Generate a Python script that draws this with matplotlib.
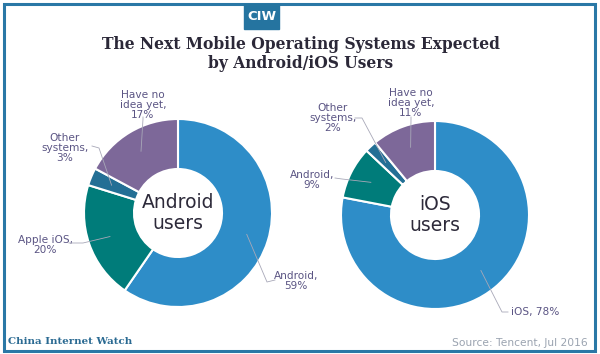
import numpy as np
import matplotlib.pyplot as plt
from matplotlib.patches import Rectangle

# data
android_labels = ['Android', 'Apple iOS', 'Other\nsystems', 'Have no\nidea yet']
android_vals = [59, 20, 3, 17]
ios_labels = ['iOS', 'Android', 'Other\nsystems', 'Have no\nidea yet']
ios_vals = [78, 9, 2, 11]
colors = ['#2e8dc8', '#007c7a', '#236f95', '#7d6899']

W, H = 600, 354
fig = plt.figure(figsize=(6, 3.54), dpi=100)
ax = fig.add_axes([0, 0, 1, 1])

def py(y):
    # pixel y (top-down) to data y
    return H - y

label_col = '#5b5584'
R, r_in = 94, 44

def donut(cx, cy, vals, labels, centre_txt, lab_pos, elbows, one_line=()):
    wedges, _ = ax.pie(vals, colors=colors, startangle=90, counterclock=False,
                       center=(cx, py(cy)), radius=R,
                       wedgeprops=dict(width=R - r_in, edgecolor='white', linewidth=1.5))
    ax.text(cx, py(cy), centre_txt, ha='center', va='center', fontsize=13.5,
            color='#2d2a3a', linespacing=1.15, family='DejaVu Sans')
    for i, (w, lab, v, pos, el) in enumerate(zip(wedges, labels, vals, lab_pos, elbows)):
        ang = np.deg2rad((w.theta1 + w.theta2) / 2)
        rm = (R + r_in) / 2 + 3
        sx, sy = cx + rm * np.cos(ang), py(cy) + rm * np.sin(ang)
        sep = ', ' if i in one_line else ',\n'
        txt = lab + sep + str(v) + '%'
        ax.text(pos[0], py(pos[1]), txt, ha='center', va='center', fontsize=7.6,
                color=label_col, linespacing=1.05)
        ax.plot([el[0], el[2], sx], [py(el[1]), py(el[3]), sy],
                color='#a8a8b8', lw=0.6, zorder=5)

donut(178, 213, android_vals, android_labels, 'Android\nusers',
      [(296, 281), (45, 245), (65, 148), (143, 105)],
      [(275, 280, 267, 282), (69, 243, 83, 243), (92, 146, 99, 148), (143, 117, 143, 119)])
donut(435, 215, ios_vals, ios_labels, 'iOS\nusers',
      [(535, 312), (312, 180), (333, 118), (411, 103)],
      [(508, 312, 502, 312), (335, 178, 342, 179), (355, 118, 362, 118), (411, 117, 411, 119)],
      one_line=(0,))

# frame and logo
ax.add_patch(Rectangle((3.5, py(350.5)), 591, 347, fill=False, ec='#2a78a6', lw=2.2))
ax.add_patch(Rectangle((244, py(29)), 35, 25, color='#2574a0', zorder=6))
ax.text(261.5, py(17), 'CIW', ha='center', va='center', color='white',
        fontsize=9.5, fontweight='bold', family='DejaVu Sans', zorder=7)

ax.text(W / 2 + 1, py(54), 'The Next Mobile Operating Systems Expected\nby Android/iOS Users',
        ha='center', va='center', fontsize=11.2, fontweight='bold', color='#2b2838',
        family='DejaVu Serif', linespacing=1.2)

ax.text(8, py(342), 'China Internet Watch', ha='left', va='center', fontsize=7.4,
        fontweight='bold', color='#2a6a92', family='DejaVu Serif')
ax.text(588, py(343), 'Source: Tencent, Jul 2016', ha='right', va='center', fontsize=7.7,
        color='#9aa3b0')

ax.set_xlim(0, W)
ax.set_ylim(0, H)
ax.set_aspect('auto')
ax.axis('off')
fig.savefig('out.png', dpi=100)
